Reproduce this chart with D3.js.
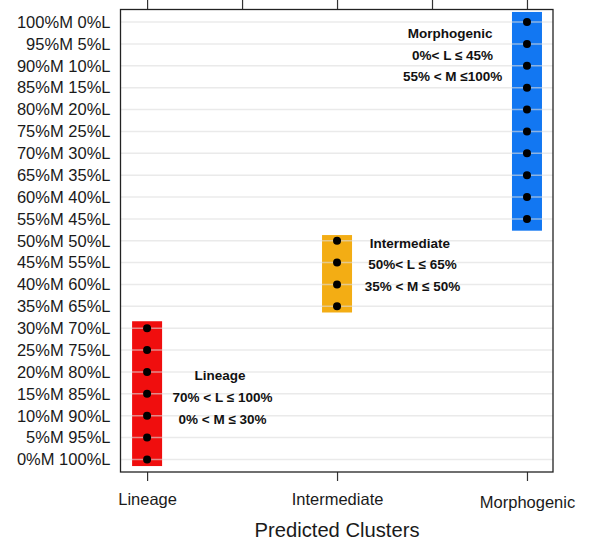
<!DOCTYPE html>
<html lang="en">
<head>
    <meta charset="UTF-8">
    <title>Predicted Clusters</title>
    <script src="https://cdn.jsdelivr.net/npm/d3@7"></script>
    <style>
        body { margin: 0; background: #fff; }
        text { font-family: "Liberation Sans", Arial, Helvetica, sans-serif; fill: #1a1a1a; }
        .anno { font-weight: bold; font-size: 13.5px; fill: #111; }
    </style>
</head>
<body>
    <svg width="589" height="544"></svg>

    <script>
        // Data
        var clusters = ["Lineage", "Intermediate", "Morphogenic"];
        var mLevels = [0, 5, 10, 15, 20, 25, 30, 35, 40, 45, 50, 55, 60, 65, 70, 75, 80, 85, 90, 95, 100];
        var pointCluster = [1, 1, 1, 1, 1, 1, 1, 2, 2, 2, 2, 3, 3, 3, 3, 3, 3, 3, 3, 3, 3];
        var barClusters = [1, 2, 3];
        var barLow = [-1.5, 33.6, 52.3];
        var barHigh = [31.6, 51.3, 102.3];
        var barColors = ["#f00e0e", "#f3ad14", "#1277f2"];
        var annoX = [1.384, 2.384, 2.595];
        var annoM = [19.2, 49.5, 97.4];
        var annoLines = [
            ["Lineage", "70% < L \u2264 100%", "0% < M \u2264 30%"],
            ["Intermediate", "50%< L \u2264 65%", "35% < M \u2264 50%"],
            ["Morphogenic", "0%< L \u2264 45%", "55% < M \u2264100%"]
        ];
        var topTicks = [1, 1.5, 2, 2.5, 3];

        var width = 589, height = 544;
        var margin = { top: 9.5, right: 36, bottom: 72, left: 120.5 };

        var svg = d3.select("svg");

        var x = d3.scaleLinear()
            .domain([0.86, 3.137])
            .range([margin.left, width - margin.right]);

        var y = d3.scaleLinear()
            .domain([-2.86, 102.86])
            .range([height - margin.bottom, margin.top]);

        // Bars
        svg.append("g")
            .selectAll("rect")
            .data(barClusters)
            .enter().append("rect")
            .attr("x", function(d) { return x(d) - 15; })
            .attr("width", 30)
            .attr("y", function(d, i) { return y(barHigh[i]); })
            .attr("height", function(d, i) { return y(barLow[i]) - y(barHigh[i]); })
            .attr("fill", function(d, i) { return barColors[i]; });

        // Gridlines, drawn over the bars
        svg.append("g")
            .selectAll("line")
            .data(mLevels)
            .enter().append("line")
            .attr("x1", x.range()[0])
            .attr("x2", x.range()[1])
            .attr("y1", function(d) { return y(d); })
            .attr("y2", function(d) { return y(d); })
            .attr("stroke", "#dcdcdc")
            .attr("stroke-opacity", 0.6)
            .attr("stroke-width", 1.5);

        // Points
        svg.append("g")
            .selectAll("circle")
            .data(mLevels)
            .enter().append("circle")
            .attr("cx", function(d, i) { return x(pointCluster[i]); })
            .attr("cy", function(d) { return y(d); })
            .attr("r", 4)
            .attr("fill", "#000");

        // Annotations
        annoLines.forEach(function(lines, k) {
            var t = svg.append("text")
                .attr("class", "anno")
                .attr("text-anchor", "middle")
                .attr("x", x(annoX[k]))
                .attr("y", y(annoM[k]) + 4.7);
            lines.forEach(function(s, j) {
                t.append("tspan")
                    .attr("x", x(annoX[k]) + (j > 0 ? 2.5 : 0))
                    .attr("dy", j === 0 ? 0 : 21.7)
                    .text(s);
            });
        });

        // Bottom axis
        var xAxis = svg.append("g")
            .attr("transform", "translate(0," + y.range()[0] + ")")
            .call(d3.axisBottom(x).tickValues([1, 2, 3])
                .tickFormat(function(d) { return clusters[d - 1]; })
                .tickSize(9).tickPadding(10));
        xAxis.select(".domain").remove();
        xAxis.selectAll("line").attr("stroke", "#333").attr("stroke-width", 1.2);
        xAxis.selectAll("text").attr("font-size", "16.5px")
            .attr("dy", function(d) { return d === 3 ? "1.0em" : "0.83em"; });

        // Top ticks
        var topAxis = svg.append("g")
            .attr("transform", "translate(0," + y.range()[1] + ")")
            .call(d3.axisTop(x).tickValues(topTicks).tickSize(9.5).tickFormat(""));
        topAxis.select(".domain").remove();
        topAxis.selectAll("line").attr("stroke", "#333").attr("stroke-width", 1.2);

        // Left labels
        var yAxis = svg.append("g")
            .attr("transform", "translate(" + x.range()[0] + ",0)")
            .call(d3.axisLeft(y).tickValues(mLevels).tickSize(0).tickPadding(10)
                .tickFormat(function(d) { return d + "%M " + (100 - d) + "%L"; }));
        yAxis.select(".domain").remove();
        yAxis.selectAll("text").attr("font-size", "16.5px");

        // Plot border
        svg.append("rect")
            .attr("x", x.range()[0])
            .attr("y", y.range()[1])
            .attr("width", x.range()[1] - x.range()[0])
            .attr("height", y.range()[0] - y.range()[1])
            .attr("fill", "none")
            .attr("stroke", "#222")
            .attr("stroke-width", 1.3);

        // Axis title
        svg.append("text")
            .attr("x", x(2))
            .attr("y", 537)
            .attr("text-anchor", "middle")
            .attr("font-size", "20.2px")
            .text("Predicted Clusters");
    </script>
</body>
</html>
